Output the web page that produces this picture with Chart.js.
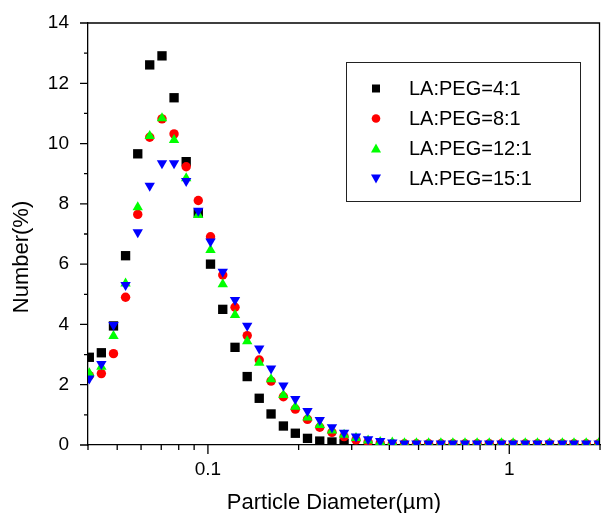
<!DOCTYPE html>
<html>
<head>
<meta charset="utf-8">
<script src="https://cdn.jsdelivr.net/npm/chart.js@4.4.1/dist/chart.umd.min.js"></script>
<style>
  html, body { margin: 0; padding: 0; background: #fff; }
  #wrap { width: 601px; height: 513px; }
</style>
</head>
<body>
<div id="wrap"><canvas id="psd" width="601" height="513"></canvas></div>
<script>
'use strict';

// particle diameter (um)
const diameters = [0.0404, 0.0443, 0.0486, 0.0533, 0.0585, 0.0641, 0.0704, 0.0772, 0.0847, 0.0929,
    0.102, 0.112, 0.123, 0.135, 0.148, 0.162, 0.178, 0.195, 0.214, 0.235,
    0.258, 0.283, 0.310, 0.340, 0.373, 0.409, 0.449, 0.492, 0.540, 0.593,
    0.650, 0.713, 0.782, 0.858, 0.942, 1.03, 1.13, 1.24, 1.36, 1.50,
    1.64, 1.80, 1.98];

const labels = ['LA:PEG=4:1', 'LA:PEG=8:1', 'LA:PEG=12:1', 'LA:PEG=15:1'];

const peg4 = [2.91, 3.06, 3.95, 6.28, 9.66, 12.61, 12.91, 11.52, 9.40, 7.69,
    6.00, 4.50, 3.24, 2.27, 1.55, 1.03, 0.63, 0.39, 0.22, 0.13,
    0.10, 0.06];
const peg8 = [2.30, 2.37, 3.03, 4.90, 7.65, 10.21, 10.82, 10.32, 9.23, 8.11,
    6.91, 5.64, 4.57, 3.63, 2.82, 2.12, 1.60, 1.19, 0.85, 0.59,
    0.42, 0.28, 0.17, 0.10, 0.06, 0.04, 0.04, 0.04, 0.04, 0.04,
    0.04, 0.04, 0.04, 0.04, 0.04, 0.04, 0.04, 0.04, 0.04, 0.04,
    0.04, 0.04, 0.04];
const peg12 = [2.38, 2.60, 3.62, 5.36, 7.89, 10.25, 10.84, 10.12, 8.85, 7.63,
    6.47, 5.33, 4.31, 3.44, 2.73, 2.18, 1.66, 1.27, 0.91, 0.66,
    0.48, 0.34, 0.23, 0.15, 0.10, 0.08, 0.06, 0.06, 0.06, 0.06,
    0.06, 0.06, 0.06, 0.06, 0.06, 0.06, 0.06, 0.06, 0.06, 0.06,
    0.06, 0.06, 0.06];
const peg15 = [2.21, 2.69, 3.98, 5.31, 7.06, 8.60, 9.35, 9.35, 8.76, 7.77,
    6.75, 5.75, 4.81, 3.96, 3.20, 2.54, 1.97, 1.53, 1.13, 0.83,
    0.59, 0.41, 0.28, 0.19, 0.13, 0.08, 0.05, 0.05, 0.05, 0.05,
    0.05, 0.05, 0.05, 0.05, 0.05, 0.05, 0.05, 0.05, 0.05, 0.05,
    0.05, 0.05, 0.05];

const xTicks = [0.04, 0.05, 0.06, 0.07, 0.08, 0.09, 0.1, 0.2, 0.3, 0.4, 0.5, 0.6, 0.7, 0.8, 0.9, 1, 2];
const xLabelled = [0.1, 1];

const FONT = '"Liberation Sans", Arial, Helvetica, sans-serif';

function pts(values) {
    return values.map(function (v, i) { return {x: diameters[i], y: v}; });
}

// no extra room for the end labels, the plot box is fixed
function noPad(scale) {
    scale.paddingLeft = 0;
    scale.paddingRight = 0;
    scale.paddingTop = 0;
    scale.paddingBottom = 0;
}

// markers for the hand drawn legend
function marker(ctx, style, x, y, color) {
    ctx.fillStyle = color;
    ctx.beginPath();
    if (style === 'rect') {
        ctx.rect(x - 4, y - 4, 8, 8);
    } else if (style === 'circle') {
        ctx.arc(x, y, 4.3, 0, Math.PI * 2);
    } else if (style === 'up') {
        ctx.moveTo(x, y - 5); ctx.lineTo(x + 5, y + 4); ctx.lineTo(x - 5, y + 4);
    } else {
        ctx.moveTo(x, y + 5); ctx.lineTo(x + 5, y - 4); ctx.lineTo(x - 5, y - 4);
    }
    ctx.closePath();
    ctx.fill();
}

const framePlugin = {
    id: 'frame',
    afterDraw(chart) {
        const ctx = chart.ctx;
        const a = chart.chartArea;
        const xs = chart.scales.x, ys = chart.scales.y;
        ctx.save();
        ctx.strokeStyle = '#000';
        ctx.lineWidth = 1.3;
        ctx.beginPath();
        ctx.moveTo(a.left, a.top); ctx.lineTo(a.right - 0.5, a.top); ctx.lineTo(a.right - 0.5, a.bottom);
        // y ticks
        for (let v = 0; v <= 14; v++) {
            const py = ys.getPixelForValue(v);
            ctx.moveTo(a.left, py); ctx.lineTo(a.left - (v % 2 === 0 ? 8 : 4), py);
        }
        // x ticks
        xTicks.forEach(function (v) {
            const px = xs.getPixelForValue(v);
            ctx.moveTo(px, a.bottom); ctx.lineTo(px, a.bottom + (xLabelled.includes(v) ? 9 : 5));
        });
        ctx.stroke();

        // axis titles
        ctx.fillStyle = '#000';
        ctx.font = '22px ' + FONT;
        ctx.textAlign = 'center';
        ctx.textBaseline = 'middle';
        ctx.fillText('Particle Diameter(\u00b5m)', 334, 503);
        ctx.save();
        ctx.translate(22, 257);
        ctx.rotate(-Math.PI / 2);
        ctx.fillText('Number(%)', 0, 0);
        ctx.restore();

        // legend
        ctx.lineWidth = 1;
        ctx.strokeStyle = '#222';
        ctx.strokeRect(346.5, 62.5, 234, 139);
        ctx.font = '20px ' + FONT;
        ctx.textAlign = 'left';
        const styles = ['rect', 'circle', 'up', 'down'];
        chart.data.datasets.forEach(function (ds, i) {
            const ly = 88.5 + i * 30;
            marker(ctx, styles[i], 376, ly, ds.backgroundColor);
            ctx.fillStyle = '#000';
            ctx.fillText(ds.label, 409, ly + 1);
        });
        ctx.restore();
    }
};

new Chart('psd', {
    type: 'scatter',
    data: {
        datasets: [{
            label: labels[0],
            data: pts(peg4),
            pointStyle: 'rect',
            pointRadius: 6.6,
            backgroundColor: '#000000',
            borderWidth: 0,
            order: 4
        }, {
            label: labels[1],
            data: pts(peg8),
            pointStyle: 'circle',
            pointRadius: 4.7,
            backgroundColor: '#ff0000',
            borderWidth: 0,
            order: 3
        }, {
            label: labels[2],
            data: pts(peg12),
            pointStyle: 'triangle',
            pointRadius: 6,
            backgroundColor: '#00ff00',
            borderWidth: 0,
            order: 2
        }, {
            label: labels[3],
            data: pts(peg15),
            pointStyle: 'triangle',
            rotation: 180,
            pointRadius: 6,
            backgroundColor: '#0000ff',
            borderWidth: 0,
            order: 1
        }]
    },
    options: {
        responsive: false,
        animation: false,
        events: [],
        layout: {autoPadding: false, padding: {top: 23, right: 1, left: 0, bottom: 0}},
        plugins: {legend: {display: false}, tooltip: {enabled: false}},
        scales: {
            x: {
                type: 'logarithmic',
                min: 0.04,
                max: 2,
                afterBuildTicks: function (scale) {
                    scale.ticks = xTicks.map(function (v) { return {value: v}; });
                },
                afterFit: function (scale) { scale.height = 68; noPad(scale); },
                grid: {display: false, drawTicks: false},
                border: {display: true, color: '#000', width: 1.3},
                ticks: {
                    autoSkip: false,
                    maxRotation: 0,
                    padding: 13,
                    color: '#000',
                    font: {family: FONT, size: 19},
                    callback: function (v) {
                        return xLabelled.includes(v) ? String(v) : '';
                    }
                }
            },
            y: {
                min: 0,
                max: 14,
                afterFit: function (scale) { scale.width = 88; noPad(scale); },
                grid: {display: false, drawTicks: false},
                border: {display: true, color: '#000', width: 1.3},
                ticks: {
                    stepSize: 2,
                    padding: 19,
                    color: '#000',
                    font: {family: FONT, size: 19}
                }
            }
        }
    },
    plugins: [framePlugin]
});
</script>
</body>
</html>
